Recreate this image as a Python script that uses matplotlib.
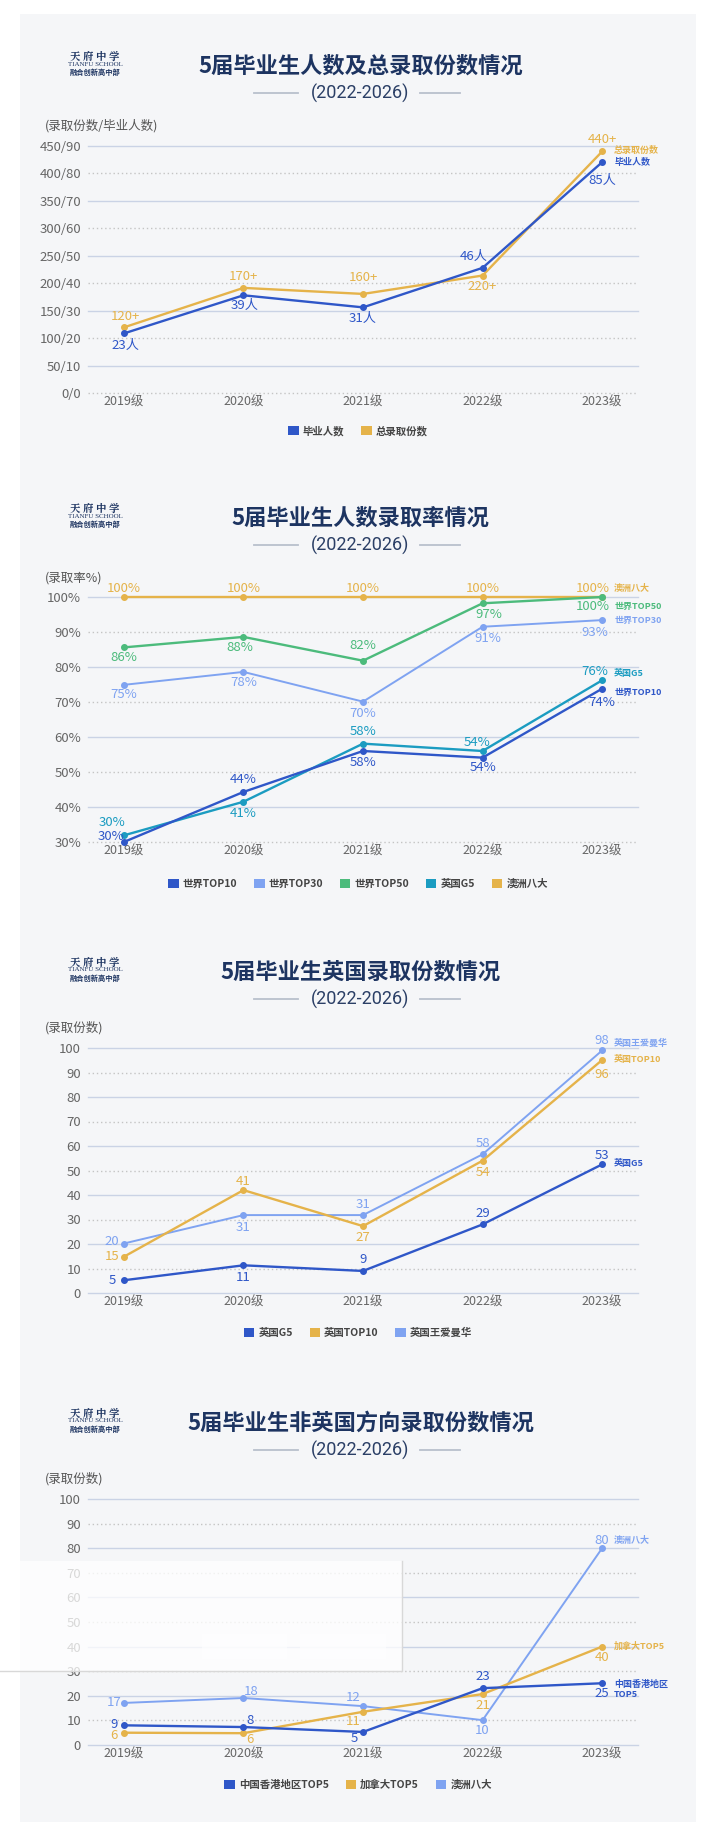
import matplotlib
matplotlib.use("Agg")
import matplotlib.pyplot as plt
from matplotlib.patches import Rectangle
from matplotlib.lines import Line2D

plt.rcParams["font.family"] = ["Noto Sans CJK SC", "DejaVu Sans"]

# ---------------- data ----------------
grades = ["2019级", "2020级", "2021级", "2022级", "2023级"]
subtitle = "(2022-2026)"

# chart 1: graduates (right number) and total offers (left number)
graduates = [21.7, 35.6, 31.2, 45.6, 84.1]
graduates_text = ["23人", "39人", "31人", "46人", "85人"]
offers_total = [119.5, 191.5, 180.5, 214, 440]
offers_total_text = ["120+", "170+", "160+", "220+", "440+"]
c1_ticks = [0, 50, 100, 150, 200, 250, 300, 350, 400, 450]
c1_ticklabels = ["0/0", "50/10", "100/20", "150/30", "200/40", "250/50",
                 "300/60", "350/70", "400/80", "450/90"]

# chart 2: admission rates (%)
rate_top10 = [30, 44.3, 56, 54.1, 73.8]
rate_top10_text = ["30%", "44%", "58%", "54%", "74%"]
rate_top30 = [74.9, 78.6, 70.1, 91.5, 93.4]
rate_top30_text = ["75%", "78%", "70%", "91%", "93%"]
rate_top50 = [85.6, 88.6, 81.8, 98.2, 100]
rate_top50_text = ["86%", "88%", "82%", "97%", "100%"]
rate_g5 = [31.9, 41.5, 58.1, 56, 76.2]
rate_g5_text = ["30%", "41%", "58%", "54%", "76%"]
rate_aus8 = [100, 100, 100, 100, 100]
rate_aus8_text = ["100%", "100%", "100%", "100%", "100%"]
c2_ticks = [30, 40, 50, 60, 70, 80, 90, 100]
c2_ticklabels = ["30%", "40%", "50%", "60%", "70%", "80%", "90%", "100%"]

# chart 3: UK offers
uk_g5 = [5.2, 11.3, 9, 28, 52.5]
uk_g5_text = ["5", "11", "9", "29", "53"]
uk_top10 = [14.8, 42, 27.3, 54, 95.1]
uk_top10_text = ["15", "41", "27", "54", "96"]
uk_ucl = [20.2, 31.8, 31.8, 56.6, 99]
uk_ucl_text = ["20", "31", "31", "58", "98"]

# chart 4: non-UK offers
hk_top5 = [8, 7.3, 5.3, 23.1, 25.1]
hk_top5_text = ["9", "8", "5", "23", "25"]
ca_top5 = [5, 4.8, 13.5, 20.7, 40]
ca_top5_text = ["6", "6", "11", "21", "40"]
au_go8 = [17.1, 19.1, 15.8, 10.1, 80]
au_go8_text = ["17", "18", "12", "10", "80"]

count_ticks = [0, 10, 20, 30, 40, 50, 60, 70, 80, 90, 100]
count_ticklabels = [str(t) for t in count_ticks]

# ---------------- style ----------------
DARK_BLUE = "#2f57c8"
LIGHT_BLUE = "#7fa3f1"
GOLD = "#e5b34a"
GREEN = "#4cbb7c"
TEAL = "#1b9cc1"
NAVY = "#1d3461"
TICK = "#666666"
PANEL = "#f5f6f8"

W, H = 721, 1822
PLOT_L, PLOT_R = 88, 638


def fx(x):
    return x / W


def fy(y):
    return 1 - y / H


fig = plt.figure(figsize=(W / 100, H / 100), dpi=100)
fig.patch.set_facecolor("white")
fig.patches.append(Rectangle((fx(20), 0), fx(696) - fx(20), fy(14),
                             transform=fig.transFigure, facecolor=PANEL,
                             edgecolor="none", zorder=-5))


def header(title, ty):
    fig.text(fx(95), fy(ty - 9), "天 府 中 学", ha="center", va="center",
             fontsize=7.5, color=NAVY, fontweight="bold",
             family=["Noto Serif CJK SC", "Noto Sans CJK SC"])
    fig.text(fx(95), fy(ty - 2), "TIANFU SCHOOL", ha="center", va="center",
             fontsize=5, color=NAVY, family=["Liberation Serif", "DejaVu Serif"])
    fig.text(fx(95), fy(ty + 6), "融合创新高中部", ha="center", va="center",
             fontsize=5.2, color=NAVY, fontweight="bold")
    fig.text(0.5, fy(ty), title, ha="center", va="center", fontsize=16,
             fontweight="bold", color=NAVY)
    fig.text(0.5, fy(ty + 27), subtitle, ha="center", va="center",
             fontsize=13, color="#2b3f66", family=["Roboto", "DejaVu Sans"])
    for x0, x1 in [(254, 298), (420, 460)]:
        fig.add_artist(Line2D([fx(x0), fx(x1)], [fy(ty + 27)] * 2,
                              color="#b9c0cc", lw=1.3, transform=fig.transFigure))


def chart(top, bottom, ylim, ticks, ticklabels, ylabel, ylabel_y):
    ax = fig.add_axes([fx(PLOT_L), fy(bottom), (PLOT_R - PLOT_L) / W,
                       (bottom - top) / H])
    ax.set_facecolor("none")
    ax.set_xlim(-0.3, 4.3)
    ax.set_ylim(*ylim)
    for i, t in enumerate(ticks[::-1]):
        if i % 2 == 0:
            ax.axhline(t, color="#cad3e5", lw=1, clip_on=False, zorder=1)
        else:
            ax.axhline(t, color="#c4c4c4", lw=1, ls=(0, (1, 2)),
                       clip_on=False, zorder=1)
    for s in ax.spines.values():
        s.set_visible(False)
    ax.set_xticks(range(len(grades)), grades)
    ax.set_yticks(ticks, ticklabels)
    ax.tick_params(axis="x", length=0, pad=2, labelsize=9, labelcolor=TICK)
    ax.tick_params(axis="y", length=0, pad=5, labelsize=9.5, labelcolor=TICK)
    fig.text(fx(45), fy(ylabel_y), ylabel, ha="left", va="center",
             fontsize=9, color="#555555")
    return ax


def series(ax, values, texts, color, offsets, end_label, end_dy, lw=1.7):
    x = range(len(values))
    ax.plot(x, values, color=color, lw=lw, marker="o", ms=4, clip_on=False,
            zorder=3)
    for xi, v, t, (dx, dy) in zip(x, values, texts, offsets):
        ax.annotate(t, (xi, v), xytext=(dx, dy), textcoords="offset pixels",
                    ha="center", va="center", fontsize=9.5, color=color,
                    fontweight="light", zorder=4)
    ax.annotate(end_label, (len(values) - 1, values[-1]), xytext=(12, end_dy),
                textcoords="offset pixels", ha="left", va="center",
                fontsize=6.5, fontweight="bold", color=color, zorder=4,
                linespacing=1.15, annotation_clip=False)


def legend(items, y):
    handles = [Rectangle((0, 0), 1, 1, facecolor=c, edgecolor="none")
               for _, c in items]
    fig.legend(handles, [n for n, _ in items], loc="center",
               bbox_to_anchor=(fx(358), fy(y)), ncol=len(items), frameon=False,
               handlelength=1.0, handleheight=1.0, handletextpad=0.4,
               columnspacing=1.6, prop={"size": 7.5, "weight": "bold"},
               labelcolor="#444444")


# ---------------- chart 1 ----------------
header("5届毕业生人数及总录取份数情况", 66)
ax1 = chart(146, 393, (0, 450), c1_ticks, c1_ticklabels, "(录取份数/毕业人数)", 126)
series(ax1, offers_total, offers_total_text, GOLD,
       [(2, 11), (0, 11), (0, 16), (0, -11), (0, 12)], "总录取份数", 1)
series(ax1, [g * 5 for g in graduates], graduates_text, DARK_BLUE,
       [(2, -12), (1, -10), (0, -11), (-9, 11), (0, -18)], "毕业人数", 0)
legend([("毕业人数", DARK_BLUE), ("总录取份数", GOLD)], 431)

# ---------------- chart 2 ----------------
header("5届毕业生人数录取率情况", 518)
ax2 = chart(597, 842, (30, 100), c2_ticks, c2_ticklabels, "(录取率%)", 578)
series(ax2, rate_aus8, rate_aus8_text, GOLD,
       [(0, 9), (0, 9), (0, 9), (0, 9), (-9, 9)], "澳洲八大", 9)
series(ax2, rate_top50, rate_top50_text, GREEN,
       [(0, -10), (-4, -11), (0, 15), (6, -11), (-9, -10)], "世界TOP50", -9)
series(ax2, rate_top30, rate_top30_text, LIGHT_BLUE,
       [(0, -10), (0, -11), (0, -12), (5, -12), (-7, -12)], "世界TOP30", 0,
       lw=1.4)
series(ax2, rate_g5, rate_g5_text, TEAL,
       [(-12, 13), (0, -12), (0, 12), (-6, 9), (-7, 9)], "英国G5", 7)
series(ax2, rate_top10, rate_top10_text, DARK_BLUE,
       [(-13, 6), (0, 12), (0, -12), (0, -10), (0, -14)], "世界TOP10", -4)
legend([("世界TOP10", DARK_BLUE), ("世界TOP30", LIGHT_BLUE),
        ("世界TOP50", GREEN), ("英国G5", TEAL), ("澳洲八大", GOLD)], 884)

# ---------------- chart 3 ----------------
header("5届毕业生英国录取份数情况", 972)
ax3 = chart(1048, 1293, (0, 100), count_ticks, count_ticklabels, "(录取份数)", 1028)
series(ax3, uk_ucl, uk_ucl_text, LIGHT_BLUE,
       [(-12, 2), (0, -12), (0, 11), (0, 11), (0, 10)], "英国王爱曼华", 7, lw=1.4)
series(ax3, uk_top10, uk_top10_text, GOLD,
       [(-12, 0), (0, 9), (0, -11), (0, -12), (0, -14)], "英国TOP10", 1)
series(ax3, uk_g5, uk_g5_text, DARK_BLUE,
       [(-12, 0), (0, -12), (0, 11), (0, 11), (0, 9)], "英国G5", 1)
legend([("英国G5", DARK_BLUE), ("英国TOP10", GOLD), ("英国王爱曼华", LIGHT_BLUE)], 1333)

# ---------------- chart 4 ----------------
header("5届毕业生非英国方向录取份数情况", 1423)
ax4 = chart(1499, 1745, (0, 100), count_ticks, count_ticklabels, "(录取份数)", 1479)
series(ax4, au_go8, au_go8_text, LIGHT_BLUE,
       [(-10, 0), (8, 7), (-10, 9), (0, -10), (0, 8)], "澳洲八大", 8, lw=1.4)
series(ax4, ca_top5, ca_top5_text, GOLD,
       [(-10, -3), (7, -6), (-10, -10), (0, -11), (0, -11)], "加拿大TOP5", 0)
series(ax4, hk_top5, hk_top5_text, DARK_BLUE,
       [(-10, 1), (7, 7), (-9, -7), (0, 12), (0, -10)], "中国香港地区\nTOP5", -6)
legend([("中国香港地区TOP5", DARK_BLUE), ("加拿大TOP5", GOLD), ("澳洲八大", LIGHT_BLUE)], 1785)

# faint pop-up overlay captured in the screenshot
fig.patches.append(Rectangle((0, fy(1671)), fx(402), fy(1561) - fy(1671),
                             transform=fig.transFigure, facecolor="white",
                             alpha=0.75, edgecolor="none", zorder=20))
fig.add_artist(Line2D([0, fx(402), fx(402)], [fy(1671), fy(1671), fy(1561)],
                      color="#d8d8d8", lw=1, transform=fig.transFigure, zorder=21))
for x0, x1 in [(202, 287), (300, 386)]:
    fig.patches.append(Rectangle((fx(x0), fy(1659)), fx(x1) - fx(x0),
                                 fy(1634) - fy(1659), transform=fig.transFigure,
                                 facecolor="white", alpha=0.6, edgecolor="none",
                                 zorder=21))

fig.savefig("out.png", dpi=100, facecolor=fig.get_facecolor())
